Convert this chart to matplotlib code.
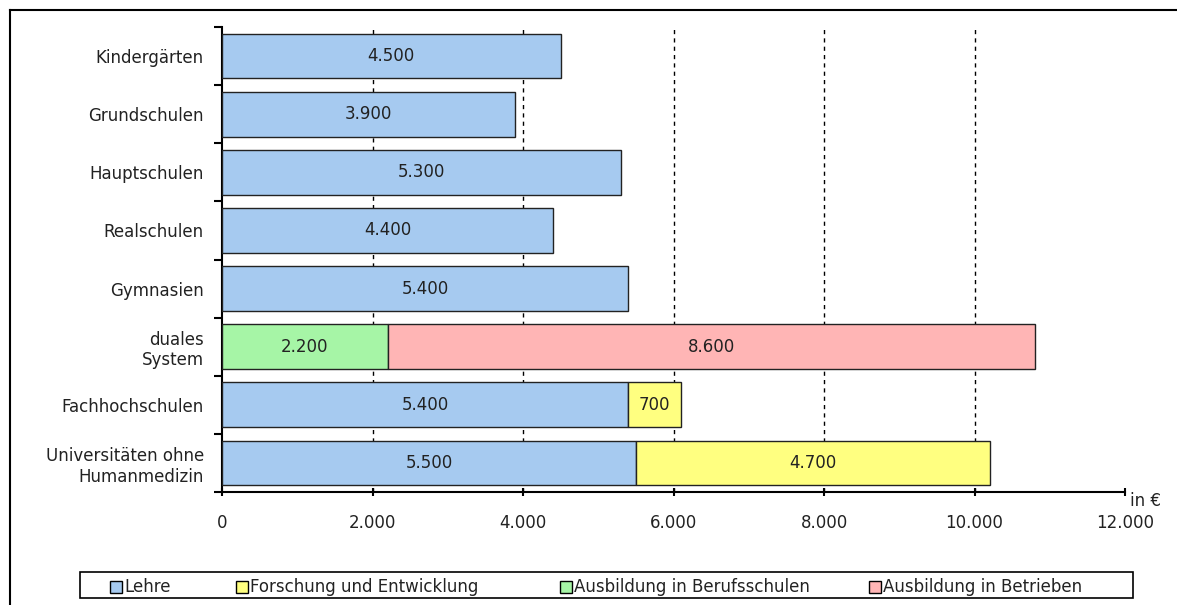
import matplotlib
matplotlib.use('Agg')
import matplotlib.pyplot as plt
from matplotlib.lines import Line2D
from matplotlib.patches import Rectangle

# categories top to bottom
categories = ['Kindergärten', 'Grundschulen', 'Hauptschulen', 'Realschulen',
              'Gymnasien', 'duales\nSystem', 'Fachhochschulen',
              'Universitäten ohne\nHumanmedizin']
lehre = [4500, 3900, 5300, 4400, 5400, 0, 5400, 5500]
forschung = [0, 0, 0, 0, 0, 0, 700, 4700]
berufsschulen = [0, 0, 0, 0, 0, 2200, 0, 0]
betriebe = [0, 0, 0, 0, 0, 8600, 0, 0]
series_names = ['Lehre', 'Forschung und Entwicklung',
                'Ausbildung in Berufsschulen', 'Ausbildung in Betrieben']
colors = ['#A6CAF0', '#FFFF80', '#A6F5A6', '#FFB5B5']
x_ticks = [0, 2000, 4000, 6000, 8000, 10000, 12000]

plt.rcParams['font.family'] = ['DejaVu Sans']
FS = 12
TC = '#222222'
W, H = 1177, 605
fig = plt.figure(figsize=(W / 100, H / 100), dpi=100)
ax = fig.add_axes([222 / W, 1 - 492 / H, (1125 - 222) / W, (492 - 27) / H])


def fx(px):
    return px / W


def fy(py):
    return 1 - py / H


# outer frame (left and top)
fig.add_artist(Line2D([fx(10), fx(10)], [0, fy(10)], transform=fig.transFigure, color='black', lw=1.5))
fig.add_artist(Line2D([fx(10), 1], [fy(10), fy(10)], transform=fig.transFigure, color='black', lw=1.5))

y = list(range(len(categories)))
h = 0.77
base = [a + b for a, b in zip(lehre, berufsschulen)]
stacks = [(berufsschulen, colors[2], [0] * 8),
          (lehre, colors[0], berufsschulen),
          (forschung, colors[1], base),
          (betriebe, colors[3], base)]
for vals, col, left in stacks:
    for i, (v, l) in enumerate(zip(vals, left)):
        if v <= 0:
            continue
        ax.barh(y[i], v, left=l, height=h, color=col, edgecolor=TC, linewidth=1, zorder=3)
        txt = f'{v:,}'.replace(',', '.')
        ax.text(l + v / 2, y[i], txt, ha='center', va='center', fontsize=FS, color=TC, zorder=4)

for xv in x_ticks[1:-1]:
    ax.axvline(xv, color='black', lw=1, linestyle=(0, (3, 3)), zorder=1)

ax.set_xlim(0, 12000)
ax.set_ylim(len(categories) - 0.5, -0.5)
ax.set_xticks(x_ticks)
ax.set_xticklabels([f'{v:,}'.replace(',', '.') for v in x_ticks], fontsize=FS, color=TC)
ax.set_yticks(y)
ax.set_yticklabels(categories, fontsize=FS, color=TC, ha='right', multialignment='right')
ax.tick_params(axis='y', which='major', length=0, pad=13)
ax.set_yticks([i - 0.5 for i in range(len(categories) + 1)], minor=True)
ax.tick_params(axis='y', which='minor', length=6, width=1.5, direction='out')
ax.tick_params(axis='x', length=6, width=1.5, direction='inout', pad=13)
for s in ['top', 'right']:
    ax.spines[s].set_visible(False)
for s in ['left', 'bottom']:
    ax.spines[s].set_linewidth(1.5)
ax.text(1.006, -0.019, 'in €', transform=ax.transAxes, fontsize=FS, color=TC, ha='left', va='center')

# legend box drawn by hand to match the uneven spacing
fig.add_artist(Rectangle((fx(80), fy(598)), fx(1133) - fx(80), fy(572) - fy(598),
                         transform=fig.transFigure, facecolor='white', edgecolor='black', lw=1.2))
handle_x = [110, 236, 560, 869]
for hx, name, col in zip(handle_x, series_names, colors):
    fig.add_artist(Rectangle((fx(hx), fy(593)), fx(12), 12 / H, transform=fig.transFigure,
                             facecolor=col, edgecolor='black', lw=1))
    fig.text(fx(hx + 14), fy(587), name, fontsize=FS, color=TC, ha='left', va='center')

fig.savefig('out.png', dpi=100)
